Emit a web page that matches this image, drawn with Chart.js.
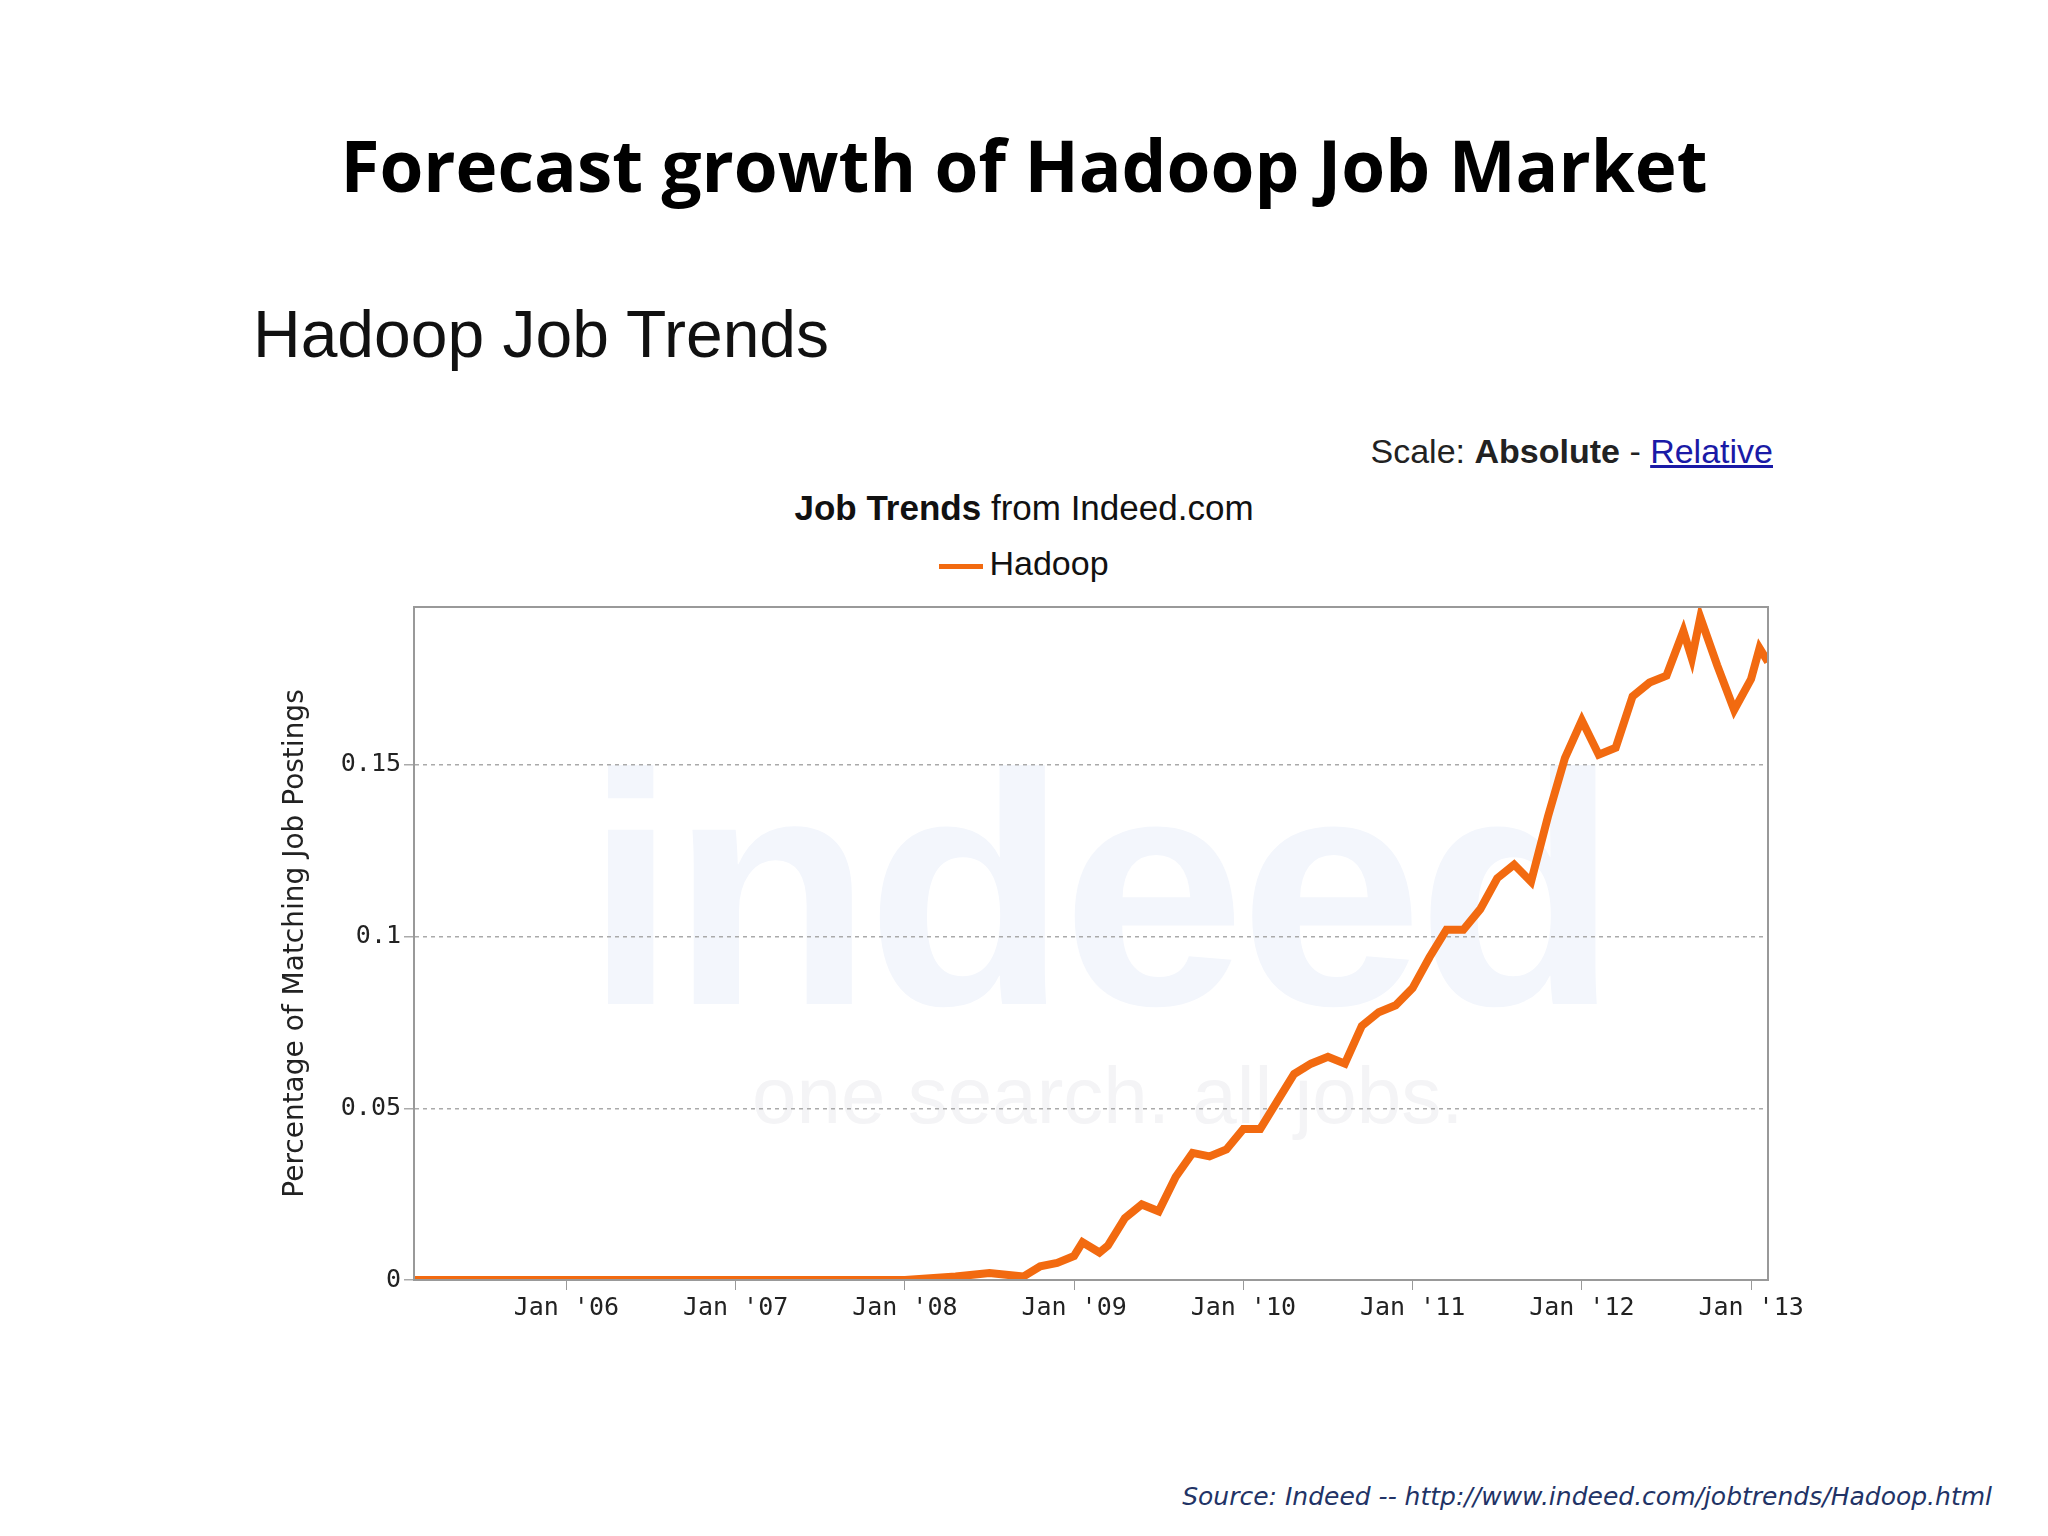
<!DOCTYPE html>
<html>
<head>
<meta charset="utf-8">
<script src="https://cdn.jsdelivr.net/npm/chart.js@4"></script>
<style>
  body { margin: 0; background: #fff; }
  #page { position: relative; width: 2048px; height: 1536px; overflow: hidden; }
  .t { position: absolute; white-space: nowrap; }
  canvas { position: absolute; left: 0; top: 0; }
</style>
</head>
<body>
<div id="page">
  <div class="t" style="left:0;width:2048px;text-align:center;top:116px;font:bold 71px 'Open Sans';color:#000;">Forecast growth of Hadoop Job Market</div>
  <div class="t" style="left:253px;top:296px;font:66px 'Liberation Sans';color:#111;">Hadoop Job Trends</div>
  <div class="t" style="right:275px;top:432px;font:34px 'Liberation Sans';color:#222;">Scale: <b>Absolute</b> - <span style="color:#1a1aa6;text-decoration:underline;">Relative</span></div>
  <div class="t" style="left:0;width:2048px;text-align:center;top:488px;font:35px 'Liberation Sans';color:#111;"><b>Job Trends</b> from Indeed.com</div>
  <div class="t" style="left:0;width:2048px;text-align:center;top:544px;font:34px 'Liberation Sans';color:#111;"><span style="display:inline-block;width:44px;height:5px;background:#f26a10;vertical-align:middle;margin-right:6px;"></span>Hadoop</div>
  <div class="t" style="left:585px;top:700px;font:bold 330px 'Liberation Sans';color:#f3f6fc;letter-spacing:-6px;">indeed</div>
  <div class="t" style="left:752px;top:1050px;font:80px 'Liberation Sans';color:#f4f4f6;">one search. all jobs.</div>
  <div class="t" style="right:56px;top:1482px;font:italic 25px 'DejaVu Sans';color:#223366;">Source: Indeed -- http://www.indeed.com/jobtrends/Hadoop.html</div>
  <canvas id="c" width="2048" height="1536"></canvas>
</div>
<script>
const years = [2005.1, 2006, 2007, 2008, 2008.3, 2008.5, 2008.7, 2008.8, 2008.9, 2009.0, 2009.05, 2009.15, 2009.2, 2009.3, 2009.4, 2009.5, 2009.6, 2009.7, 2009.8, 2009.9, 2010.0, 2010.1, 2010.2, 2010.3, 2010.4, 2010.5, 2010.6, 2010.7, 2010.8, 2010.9, 2011.0, 2011.1, 2011.2, 2011.3, 2011.4, 2011.5, 2011.6, 2011.7, 2011.8, 2011.9, 2012.0, 2012.1, 2012.2, 2012.3, 2012.4, 2012.5, 2012.6, 2012.65, 2012.7, 2012.8, 2012.9, 2013.0, 2013.05, 2013.1];
const hadoop = [0, 0, 0, 0, 0.001, 0.002, 0.001, 0.004, 0.005, 0.007, 0.011, 0.008, 0.010, 0.018, 0.022, 0.020, 0.030, 0.037, 0.036, 0.038, 0.044, 0.044, 0.052, 0.060, 0.063, 0.065, 0.063, 0.074, 0.078, 0.080, 0.085, 0.094, 0.102, 0.102, 0.108, 0.117, 0.121, 0.116, 0.135, 0.152, 0.163, 0.153, 0.155, 0.170, 0.174, 0.176, 0.189, 0.181, 0.193, 0.179, 0.166, 0.175, 0.184, 0.180];
const xTicks = [2006, 2007, 2008, 2009, 2010, 2011, 2012, 2013];
const xLabels = ["Jan '06", "Jan '07", "Jan '08", "Jan '09", "Jan '10", "Jan '11", "Jan '12", "Jan '13"];
const yTicks = [0, 0.05, 0.1, 0.15];

new Chart(document.getElementById('c'), {
  type: 'line',
  data: {
    datasets: [{
      label: 'Hadoop',
      data: years.map((x, i) => ({ x, y: hadoop[i] })),
      borderColor: '#f26a10',
      borderWidth: 8,
      pointRadius: 0,
      tension: 0
    }]
  },
  options: {
    responsive: false,
    animation: false,
    layout: { padding: { left: 275, right: 280, top: 607, bottom: 176 } },
    plugins: { legend: { display: false }, tooltip: { enabled: false } },
    scales: {
      x: {
        type: 'linear', min: 2005.1, max: 2013.1,
        afterBuildTicks: s => { s.ticks = xTicks.map(v => ({ value: v })); },
        afterFit: s => { s.height = 80; },
        ticks: { callback: v => xLabels[xTicks.indexOf(v)], font: { family: 'DejaVu Sans Mono', size: 25 }, color: '#222', maxRotation: 0 },
        grid: { drawOnChartArea: false, tickLength: 10, color: '#999' },
        border: { color: '#999', width: 2 }
      },
      y: {
        min: 0, max: 0.196,
        afterBuildTicks: s => { s.ticks = yTicks.map(v => ({ value: v })); },
        afterFit: s => { s.width = 139; },
        ticks: { callback: v => String(v), font: { family: 'DejaVu Sans Mono', size: 25 }, color: '#222' },
        grid: { color: '#aaa', lineWidth: 1.5, tickLength: 10 },
        border: { color: '#999', width: 2, dash: [4, 4] },
        title: { display: true, text: 'Percentage of Matching Job Postings', font: { family: 'DejaVu Sans', size: 28 }, color: '#222' }
      }
    }
  },
  plugins: [{
    id: 'frame',
    afterDraw(chart) {
      const { ctx, chartArea: a } = chart;
      ctx.save();
      ctx.strokeStyle = '#999';
      ctx.lineWidth = 2;
      ctx.setLineDash([]);
      ctx.strokeRect(a.left, a.top, a.right - a.left, a.bottom - a.top);
      ctx.restore();
    }
  }]
});
</script>
</body>
</html>
